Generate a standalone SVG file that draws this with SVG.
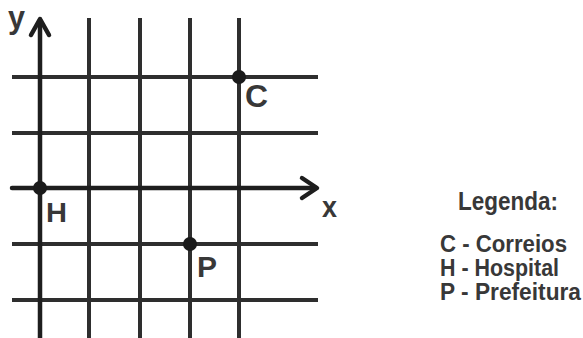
<svg xmlns="http://www.w3.org/2000/svg" width="583" height="338" viewBox="0 0 583 338">
<style>
.g{stroke:#2e2e2e;stroke-width:4;fill:none}
.a{stroke:#1e1e1e;stroke-width:4.5;fill:none;stroke-linecap:round;stroke-linejoin:round}
.d{fill:#1a1a1a}
.t{font-family:"Liberation Sans",Arial,sans-serif;font-weight:bold;fill:#383838}
</style>
<rect width="583" height="338" fill="#fff"/>
<g id="grid">
<line class="g" x1="89" y1="18" x2="89" y2="338"/>
<line class="g" x1="140" y1="18" x2="140" y2="338"/>
<line class="g" x1="190" y1="18" x2="190" y2="338"/>
<line class="g" x1="239" y1="18" x2="239" y2="338"/>
<line class="g" x1="12" y1="77" x2="318" y2="77"/>
<line class="g" x1="12" y1="133" x2="318" y2="133"/>
<line class="g" x1="12" y1="244" x2="318" y2="244"/>
<line class="g" x1="12" y1="300" x2="318" y2="300"/>
</g>
<g id="axes">
<line class="a" x1="40" y1="20" x2="40" y2="338"/>
<polyline class="a" points="31,35 40,19 49,35"/>
<line class="a" x1="12" y1="188" x2="316" y2="188"/>
<polyline class="a" points="302,178 317,188 302,198"/>
<text class="t" x="8" y="28" font-size="31" textLength="17" lengthAdjust="spacingAndGlyphs">y</text>
<text class="t" x="322" y="217" font-size="30" textLength="15" lengthAdjust="spacingAndGlyphs">x</text>
</g>
<g id="C"><circle class="d" cx="239" cy="77" r="7"/><text class="t" x="245" y="107" font-size="31" textLength="23" lengthAdjust="spacingAndGlyphs">C</text></g>
<g id="H"><circle class="d" cx="40" cy="188" r="7"/><text class="t" x="46" y="222" font-size="28" textLength="21" lengthAdjust="spacingAndGlyphs">H</text></g>
<g id="P"><circle class="d" cx="190" cy="244" r="7"/><text class="t" x="197" y="277" font-size="30" textLength="20" lengthAdjust="spacingAndGlyphs">P</text></g>
<g id="legend">
<text class="t" x="458" y="210" font-size="25" textLength="100" lengthAdjust="spacingAndGlyphs">Legenda:</text>
<text class="t" x="440" y="252" font-size="23" textLength="127" lengthAdjust="spacingAndGlyphs">C - Correios</text>
<text class="t" x="440" y="276" font-size="23" textLength="119" lengthAdjust="spacingAndGlyphs">H - Hospital</text>
<text class="t" x="440" y="300" font-size="23" textLength="141" lengthAdjust="spacingAndGlyphs">P - Prefeitura</text>
</g>
</svg>
